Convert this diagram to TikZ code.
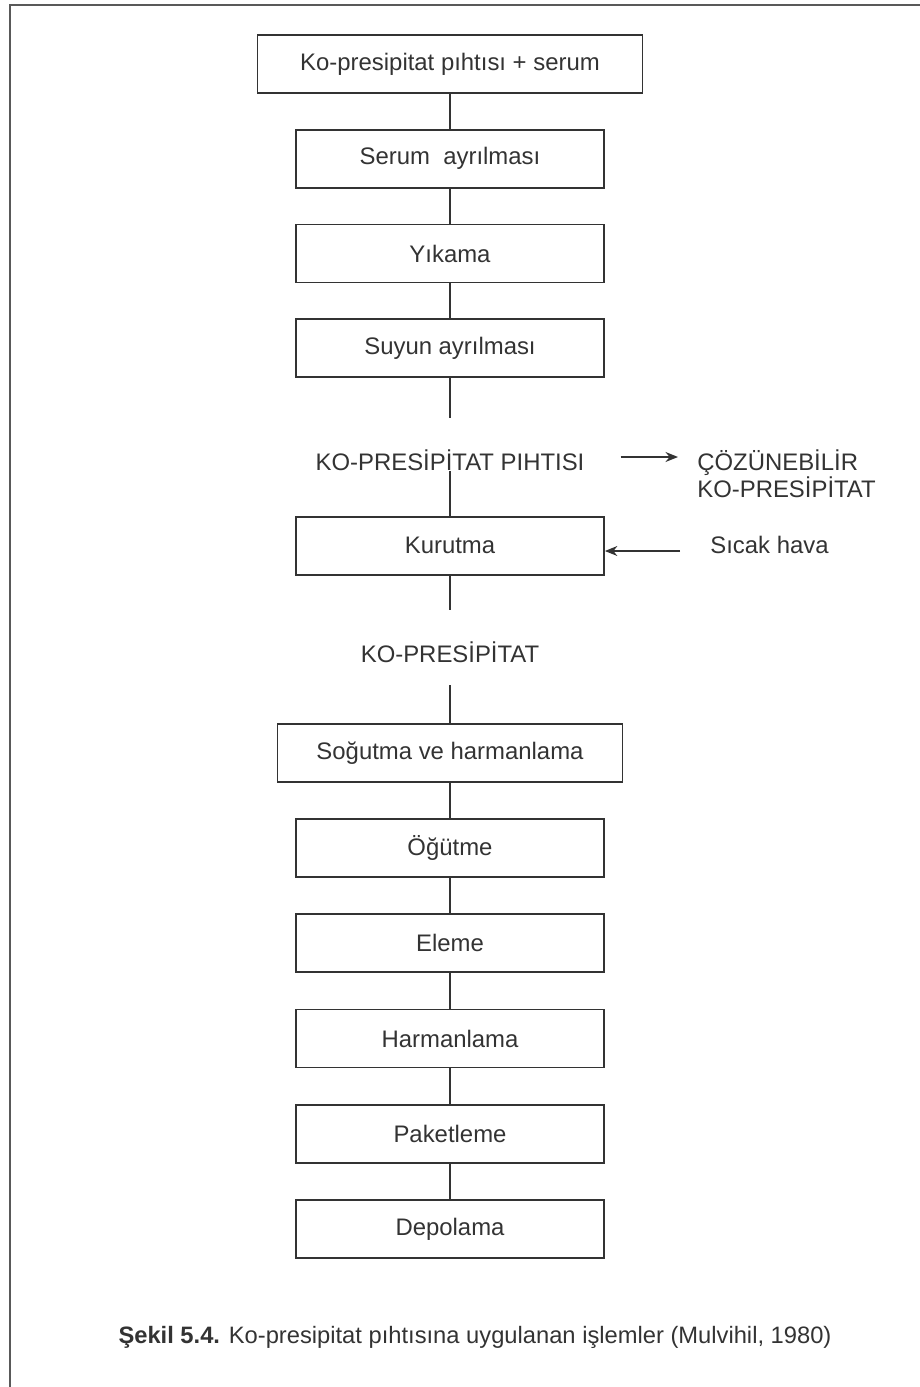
\documentclass[tikz,border=0pt]{standalone}
\usepackage{fontspec}
\setmainfont{Liberation Sans}
\usetikzlibrary{arrows.meta,positioning}

\begin{document}
\begin{tikzpicture}[
  stepbox/.style={draw=black!80,line width=1pt,minimum width=61.6mm,
    minimum height=11.6mm,font=\fontsize{13.6}{16}\selectfont,text=black!80},
  flowlabel/.style={inner sep=0pt,text height=3.4mm,text depth=0mm,
    font=\fontsize{13.6}{16}\selectfont,text=black!80},
  sidelabel/.style={inner sep=0pt,align=left,
    font=\fontsize{13.6}{15.4}\selectfont,text=black!80},
  link/.style={draw=black!80,line width=0.8pt},
  arr/.style={-{Stealth[length=2.5mm,width=2mm]},line width=0.8pt,draw=black!80}
]
\useasboundingbox (0,0) rectangle (18.4,-27.74);
\draw[gray!70!black,line width=1.4pt] (0.2,-27.74) -- (0.2,-0.1) -- (18.4,-0.1);

\node[stepbox,minimum width=77mm] (pihtiserum) at (9.0,-1.28)
  {Ko-presipitat pıhtısı + serum};
\node[stepbox,below=7mm of pihtiserum] (serum) {Serum\ \ ayrılması};
\node[stepbox,below=7mm of serum] (yikama) {Yıkama};
\node[stepbox,below=7mm of yikama] (suyun) {Suyun ayrılması};
\coordinate (suyunend) at (9.0,-8.36);

\node[flowlabel] (pihti) at (9.0,-9.24) {KO-PRESİPİTAT PIHTISI};
\node[stepbox,below=9mm of pihti] (kurutma) {Kurutma};
\coordinate (kurutmaend) at (9.0,-12.2);

\node[flowlabel] (kopres) at (9.0,-13.08) {KO-PRESİPİTAT};
\coordinate (kopresend) at (9.0,-13.7);
\node[stepbox,minimum width=69mm,below=12mm of kopres] (sogutma)
  {Soğutma ve harmanlama};
\node[stepbox,below=7.1mm of sogutma] (ogutme) {Öğütme};
\node[stepbox,below=7.1mm of ogutme] (eleme) {Eleme};
\node[stepbox,below=7.1mm of eleme] (harman) {Harmanlama};
\node[stepbox,below=7.1mm of harman] (paket) {Paketleme};
\node[stepbox,below=7.1mm of paket] (depo) {Depolama};

\node[sidelabel,anchor=west] (cozun) at (13.94,-9.47)
  {ÇÖZÜNEBİLİR\\KO-PRESİPİTAT};
\node[flowlabel,anchor=west] (sicak) at (14.2,-10.9) {Sıcak hava};

\node[font=\fontsize{13.5}{16}\selectfont,text=black!80] (caption) at (9.5,-26.74)
  {\textbf{Şekil 5.4.} Ko-presipitat pıhtısına uygulanan işlemler (Mulvihil, 1980)};

\draw[link] (pihtiserum) -- (serum);
\draw[link] (serum) -- (yikama);
\draw[link] (yikama) -- (suyun);
\draw[link] (suyun.south) -- (suyunend);
\draw[link] (pihti.south) -- (kurutma.north);
\draw[link] (kurutma.south) -- (kurutmaend);
\draw[link] (kopresend) -- (sogutma.north);
\draw[link] (sogutma) -- (ogutme);
\draw[link] (ogutme) -- (eleme);
\draw[link] (eleme) -- (harman);
\draw[link] (harman) -- (paket);
\draw[link] (paket) -- (depo);

\draw[arr,shorten <=7.2mm,shorten >=3.8mm]
  ([yshift=1mm]pihti.east) -- ([yshift=1mm]pihti.east -| cozun.west);
\draw[arr,shorten <=6mm]
  ([yshift=-1.2mm]sicak.west) -- ([yshift=-1.2mm]sicak.west -| kurutma.east);
\end{tikzpicture}
\end{document}
